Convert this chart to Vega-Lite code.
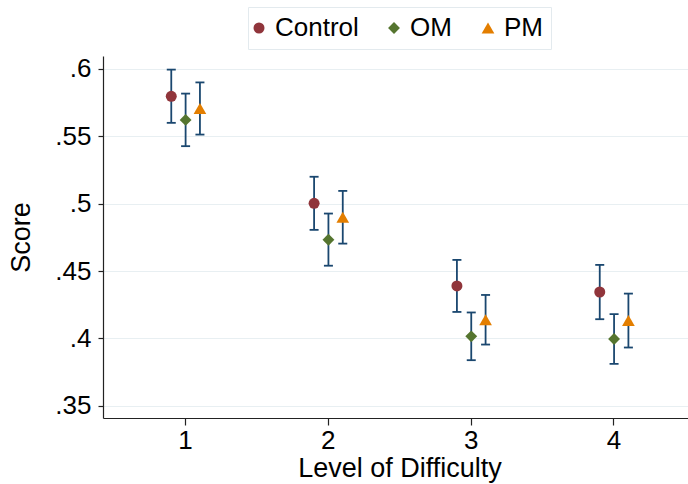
{
  "$schema": "https://vega.github.io/schema/vega-lite/v6.json",
  "width": 585,
  "height": 362,
  "autosize": {"type": "none"},
  "padding": {"left": 103, "top": 56, "right": 0, "bottom": 66},
  "background": "white",
  "config": {
    "font": "Liberation Sans",
    "view": {"stroke": null},
    "axis": {
      "labelFont": "Liberation Sans",
      "titleFont": "Liberation Sans",
      "labelFontSize": 26,
      "titleFontSize": 27,
      "titleFontWeight": "normal",
      "labelColor": "#000000",
      "titleColor": "#000000",
      "domainColor": "#222222",
      "tickColor": "#222222",
      "domainWidth": 1.2,
      "tickWidth": 1.2
    },
    "legend": {
      "labelFont": "Liberation Sans",
      "labelFontSize": 26,
      "labelColor": "#000000"
    }
  },
  "data": {
    "values": [
      {"level": 1, "group": "Control", "mean": 0.5797, "lo": 0.5600, "hi": 0.5995},
      {"level": 1, "group": "OM", "mean": 0.5622, "lo": 0.5427, "hi": 0.5817},
      {"level": 1, "group": "PM", "mean": 0.5707, "lo": 0.5513, "hi": 0.5900},
      {"level": 2, "group": "Control", "mean": 0.5003, "lo": 0.4806, "hi": 0.5200},
      {"level": 2, "group": "OM", "mean": 0.4733, "lo": 0.4540, "hi": 0.4927},
      {"level": 2, "group": "PM", "mean": 0.4900, "lo": 0.4704, "hi": 0.5095},
      {"level": 3, "group": "Control", "mean": 0.4390, "lo": 0.4197, "hi": 0.4583},
      {"level": 3, "group": "OM", "mean": 0.4016, "lo": 0.3839, "hi": 0.4193},
      {"level": 3, "group": "PM", "mean": 0.4139, "lo": 0.3955, "hi": 0.4323},
      {"level": 4, "group": "Control", "mean": 0.4345, "lo": 0.4143, "hi": 0.4546},
      {"level": 4, "group": "OM", "mean": 0.3996, "lo": 0.3812, "hi": 0.4180},
      {"level": 4, "group": "PM", "mean": 0.4133, "lo": 0.3933, "hi": 0.4333}
    ]
  },
  "encoding": {
    "x": {
      "field": "level",
      "type": "ordinal",
      "title": "Level of Difficulty",
      "scale": {"type": "band", "paddingInner": 0, "paddingOuter": 0.048, "align": 0.81},
      "axis": {"labelAngle": 0, "tickSize": 7, "labelPadding": 2, "titlePadding": 2, "titleX": 296.5, "grid": false}
    },
    "xOffset": {
      "field": "group",
      "type": "nominal",
      "scale": {"domain": ["Control", "OM", "PM"], "range": [50, 93], "paddingInner": 0, "paddingOuter": 0}
    }
  },
  "layer": [
    {
      "mark": {"type": "rule", "color": "#1a476f", "strokeWidth": 1.8},
      "encoding": {
        "y": {
          "field": "lo",
          "type": "quantitative",
          "title": "Score",
          "scale": {"domain": [0.341, 0.6096], "nice": false, "zero": false},
          "axis": {
            "values": [0.35, 0.4, 0.45, 0.5, 0.55, 0.6],
            "labelExpr": "replace(format(datum.value, '.2~f'), '0.', '.')",
            "tickSize": 5,
            "labelPadding": 7,
            "titlePadding": 19,
            "grid": true,
            "gridColor": "#e8eff2",
            "gridWidth": 1.2
          }
        },
        "y2": {"field": "hi"}
      }
    },
    {
      "mark": {"type": "tick", "color": "#1a476f", "thickness": 1.8, "size": 9, "opacity": 1},
      "encoding": {"y": {"field": "lo", "type": "quantitative", "title": "Score"}}
    },
    {
      "mark": {"type": "tick", "color": "#1a476f", "thickness": 1.8, "size": 9, "opacity": 1},
      "encoding": {"y": {"field": "hi", "type": "quantitative", "title": "Score"}}
    },
    {
      "mark": {"type": "point", "filled": true, "opacity": 1},
      "encoding": {
        "y": {"field": "mean", "type": "quantitative", "title": "Score"},
        "color": {
          "field": "group",
          "type": "nominal",
          "scale": {"domain": ["Control", "OM", "PM"], "range": ["#90353b", "#55752f", "#e37e00"]},
          "legend": {
            "title": null,
            "orient": "none",
            "direction": "horizontal",
            "legendX": 145,
            "legendY": -49,
            "padding": 8,
            "strokeColor": "#e3eaee",
            "fillColor": "#ffffff",
            "columnPadding": 29,
            "labelOffset": 3,
            "symbolSize": 144,
            "symbolOffset": -10,
            "symbolStrokeWidth": 0,
            "encode": {
              "symbols": {
                "update": {
                  "size": {"signal": "datum.value === 'Control' ? 64 : datum.value === 'OM' ? 137 : 115"}
                }
              }
            }
          }
        },
        "shape": {
          "field": "group",
          "type": "nominal",
          "scale": {"domain": ["Control", "OM", "PM"], "range": ["circle", "diamond", "triangle-up"]}
        },
        "size": {
          "field": "group",
          "type": "nominal",
          "scale": {"domain": ["Control", "OM", "PM"], "range": [121, 161, 130]},
          "legend": null
        }
      }
    }
  ]
}
